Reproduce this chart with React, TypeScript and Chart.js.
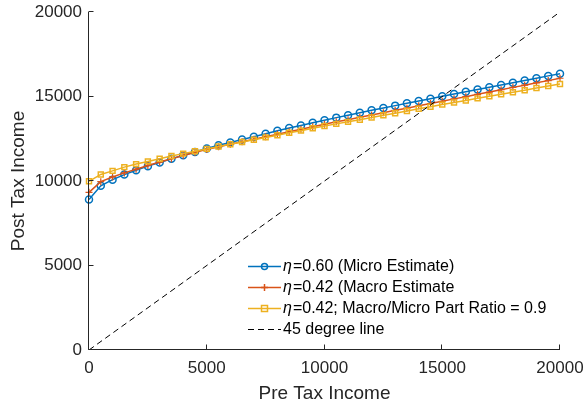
import React, { useEffect, useRef } from "react";
import { Chart, registerables } from "chart.js";

Chart.register(...registerables);

const preTax = [
  0, 500, 1000, 1500, 2000, 2500, 3000, 3500, 4000, 4500,
  5000, 5500, 6000, 6500, 7000, 7500, 8000, 8500, 9000, 9500,
  10000, 10500, 11000, 11500, 12000, 12500, 13000, 13500, 14000, 14500,
  15000, 15500, 16000, 16500, 17000, 17500, 18000, 18500, 19000, 19500,
  20000,
];

const microEstimate = [
  8900, 9720, 10080, 10380, 10640, 10880, 11100, 11310, 11520, 11720,
  11930, 12110, 12280, 12450, 12620, 12800, 12970, 13130, 13290, 13450,
  13600, 13750, 13890, 14040, 14180, 14320, 14460, 14600, 14740, 14870,
  15010, 15150, 15280, 15420, 15550, 15680, 15820, 15950, 16080, 16220,
  16350,
];

const macroEstimate = [
  9330, 9960, 10240, 10480, 10700, 10920, 11120, 11320, 11510, 11690,
  11870, 12020, 12170, 12320, 12470, 12620, 12770, 12920, 13060, 13210,
  13360, 13500, 13630, 13770, 13900, 14040, 14180, 14310, 14450, 14580,
  14720, 14860, 14990, 15130, 15260, 15400, 15540, 15670, 15810, 15940,
  16080,
];

const partRatio = [
  9980, 10390, 10600, 10820, 11000, 11160, 11320, 11480, 11620, 11760,
  11900, 12040, 12170, 12310, 12440, 12580, 12710, 12850, 12980, 13120,
  13250, 13380, 13500, 13630, 13760, 13890, 14010, 14140, 14270, 14390,
  14520, 14640, 14760, 14890, 15010, 15130, 15250, 15370, 15500, 15620,
  15740,
];

const lineX = [0, 20000];
const lineY = [0, 20000];

const legendEntries = [
  { eta: "η", text: "=0.60 (Micro Estimate)" },
  { eta: "η", text: "=0.42 (Macro Estimate" },
  { eta: "η", text: "=0.42; Macro/Micro Part Ratio = 0.9" },
  { eta: "", text: "45 degree line" },
];

const BLUE = "#0072BD";
const ORANGE = "#D95319";
const YELLOW = "#EDB120";
const AXIS = "#262626";
const FONT = "'Liberation Sans', Arial, Helvetica, sans-serif";

const toPts = (xs: number[], ys: number[]) => xs.map((x, i) => ({ x, y: ys[i] }));

const decorPlugin = {
  id: "decor",
  afterDraw(chart: any) {
    const { ctx, chartArea: a, scales } = chart;
    const xs = scales.x;
    const ys = scales.y;
    ctx.save();
    ctx.strokeStyle = AXIS;
    ctx.lineWidth = 1;
    ctx.setLineDash([]);
    const L = Math.round(a.left) - 0.5;
    const B = Math.round(a.bottom) - 0.5;
    ctx.beginPath();
    ctx.moveTo(L, a.top);
    ctx.lineTo(L, B);
    ctx.lineTo(a.right, B);
    ctx.stroke();
    ctx.beginPath();
    xs.ticks.forEach((t: any) => {
      const px = Math.round(xs.getPixelForValue(t.value)) - 0.5;
      ctx.moveTo(px, B);
      ctx.lineTo(px, B - 5);
    });
    ys.ticks.forEach((t: any) => {
      const py = Math.round(ys.getPixelForValue(t.value)) - 0.5;
      ctx.moveTo(L, py);
      ctx.lineTo(L + 5, py);
    });
    ctx.stroke();

    // legend
    const x0 = a.left + 159;
    const x1 = a.left + 192;
    const xm = (x0 + x1) / 2;
    const tx = a.left + 194;
    const rowY = [a.top + 254, a.top + 275, a.top + 296, a.top + 317];
    const styles = [
      { color: BLUE, marker: "circle" },
      { color: ORANGE, marker: "cross" },
      { color: YELLOW, marker: "rect" },
      { color: "#000000", marker: "dash" },
    ];
    styles.forEach((s, i) => {
      const y = rowY[i];
      ctx.strokeStyle = s.color;
      ctx.lineWidth = s.marker === "dash" ? 1 : 1.5;
      ctx.setLineDash(s.marker === "dash" ? [6, 4] : []);
      ctx.beginPath();
      ctx.moveTo(x0, y + 0.5);
      ctx.lineTo(x1, y + 0.5);
      ctx.stroke();
      ctx.setLineDash([]);
      ctx.beginPath();
      if (s.marker === "circle") {
        ctx.arc(xm, y + 0.5, 3, 0, Math.PI * 2);
      } else if (s.marker === "cross") {
        ctx.moveTo(xm - 3.5, y + 0.5);
        ctx.lineTo(xm + 3.5, y + 0.5);
        ctx.moveTo(xm, y - 3);
        ctx.lineTo(xm, y + 4);
      } else if (s.marker === "rect") {
        ctx.rect(xm - 3, y - 2.5, 6, 6);
      }
      ctx.stroke();
      const e = legendEntries[i];
      ctx.fillStyle = "#000000";
      ctx.textBaseline = "middle";
      ctx.textAlign = "left";
      let cx = tx;
      if (e.eta) {
        ctx.font = "italic 16px " + FONT;
        ctx.fillText(e.eta, cx, y + 1);
        cx += ctx.measureText(e.eta).width + 1;
      }
      ctx.font = "16px " + FONT;
      ctx.fillText(e.text, cx, y + 1);
    });
    ctx.restore();
  },
};

export default function App() {
  const ref = useRef<HTMLCanvasElement | null>(null);
  useEffect(() => {
    if (!ref.current) return;
    const chart = new Chart(ref.current, {
      type: "line",
      data: {
        datasets: [
          {
            data: toPts(preTax, microEstimate),
            borderColor: BLUE,
            backgroundColor: "rgba(0,0,0,0)",
            borderWidth: 1.5,
            pointStyle: "circle",
            pointRadius: 3.5,
            pointBorderWidth: 1.5,
            pointBorderColor: BLUE,
            pointBackgroundColor: "rgba(0,0,0,0)",
            tension: 0,
            clip: false as any,
            order: 4,
          },
          {
            data: toPts(preTax, macroEstimate),
            borderColor: ORANGE,
            backgroundColor: "rgba(0,0,0,0)",
            borderWidth: 1.5,
            pointStyle: "cross",
            pointRadius: 3.5,
            pointBorderWidth: 1.2,
            pointBorderColor: ORANGE,
            tension: 0,
            clip: false as any,
            order: 3,
          },
          {
            data: toPts(preTax, partRatio),
            borderColor: YELLOW,
            backgroundColor: "rgba(0,0,0,0)",
            borderWidth: 1.5,
            pointStyle: "rect",
            pointRadius: 3.5,
            pointBorderWidth: 1.5,
            pointBorderColor: YELLOW,
            pointBackgroundColor: "rgba(0,0,0,0)",
            tension: 0,
            clip: false as any,
            order: 2,
          },
          {
            data: toPts(lineX, lineY),
            borderColor: "#000000",
            borderWidth: 1,
            borderDash: [6, 4],
            pointRadius: 0,
            tension: 0,
            order: 1,
          },
        ],
      },
      options: {
        animation: false,
        responsive: false,
        maintainAspectRatio: false,
        events: [],
        layout: { padding: { top: 12, right: 25, left: 0, bottom: 0 } },
        plugins: {
          legend: { display: false },
          tooltip: { enabled: false },
        },
        scales: {
          x: {
            type: "linear",
            min: 0,
            max: 20000,
            grid: { display: false, drawTicks: false },
            border: { display: false },
            ticks: {
              stepSize: 5000,
              color: AXIS,
              font: { family: FONT, size: 17 },
              padding: 8,
              maxRotation: 0,
              callback: (v: any) => String(v),
            },
            title: {
              display: true,
              text: "Pre Tax Income",
              color: AXIS,
              font: { family: FONT, size: 19 },
              padding: { top: 0, bottom: 1 },
            },
            afterFit: (s: any) => {
              s.height = 56;
              s.paddingLeft = 0;
              s.paddingRight = 0;
            },
          },
          y: {
            type: "linear",
            min: 0,
            max: 20000,
            grid: { display: false, drawTicks: false },
            border: { display: false },
            ticks: {
              stepSize: 5000,
              color: AXIS,
              font: { family: FONT, size: 17 },
              padding: 7,
              callback: (v: any) => String(v),
            },
            title: {
              display: true,
              text: "Post Tax Income",
              color: AXIS,
              font: { family: FONT, size: 19 },
              padding: { top: 7, bottom: 0 },
            },
            afterFit: (s: any) => {
              s.width = 89;
              s.paddingTop = 0;
              s.paddingBottom = 0;
            },
          },
        },
      },
      plugins: [decorPlugin],
    });
    return () => chart.destroy();
  }, []);
  return (
    <div style={{ position: "fixed", left: 0, top: 0, width: 585, height: 406, background: "#fff" }}>
      <canvas ref={ref} width={585} height={406} style={{ width: 585, height: 406, display: "block" }} />
    </div>
  );
}
